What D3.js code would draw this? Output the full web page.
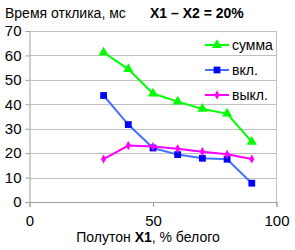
<!DOCTYPE html>
<html><head><meta charset="utf-8">
<script src="https://cdn.jsdelivr.net/npm/d3@7"></script>
<style>body{margin:0;background:#fff}svg{display:block;font-family:"Liberation Sans",Arial,sans-serif}</style>
</head><body><svg id="c" width="295" height="250"></svg>
<script>
const xValues = [30, 40, 50, 60, 70, 80, 90];
const summa = [61.2, 54.4, 44.4, 41.1, 38.1, 36.2, 24.6];
const vkl = [43.6, 31.7, 22.1, 19.4, 17.9, 17.5, 7.7];
const vykl = [17.6, 23.1, 22.7, 21.8, 20.6, 19.5, 17.6];
const seriesNames = ["сумма", "вкл.", "выкл."];
const xTicks = [0, 50, 100];
const yTicks = [0, 10, 20, 30, 40, 50, 60, 70];

const svg = d3.select("#c");
const x = d3.scaleLinear().domain([0, 100]).range([29.5, 276.5]);
const y = d3.scaleLinear().domain([0, 70]).range([202, 31]);

// gridlines
svg.append("g").selectAll("line").data(yTicks).join("line")
  .attr("x1", x(0)).attr("x2", x(100)).attr("y1", d => Math.round(y(d)) + 0.5).attr("y2", d => Math.round(y(d)) + 0.5)
  .attr("stroke", "#c0c0c0").attr("stroke-width", 1);
// right border
svg.append("line").attr("x1", x(100)).attr("x2", x(100)).attr("y1", y(70)).attr("y2", y(0)).attr("stroke", "#c0c0c0");

const yAxis = svg.append("g").attr("transform", `translate(${x(0)},0)`)
  .call(d3.axisLeft(y).tickValues(yTicks).tickSize(4).tickPadding(4));
const xAxis = svg.append("g").attr("transform", `translate(0,${y(0)})`)
  .call(d3.axisBottom(x).tickValues(xTicks).tickSize(5).tickPadding(8));
[yAxis, xAxis].forEach(a => {
  a.select(".domain").attr("stroke", "#a0a0a0");
  a.selectAll(".tick line").attr("stroke", "#a0a0a0");
  a.selectAll("text").attr("font-size", 15).attr("fill", "#000").attr("font-family", "Liberation Sans, Arial, sans-serif");
});
yAxis.selectAll("text").attr("x", -8);

const series = [
  {name: seriesNames[0], vals: summa, line: "#00ff00", fill: "#00ff00", shape: d3.symbolTriangle, size: 44},
  {name: seriesNames[1], vals: vkl, line: "#4472ff", fill: "#0000ff", shape: d3.symbolSquare, size: 46},
  {name: seriesNames[2], vals: vykl, line: "#ff00ff", fill: "#ff00ff", shape: d3.symbolDiamond, size: 24}
];
const line = d3.line().x(d => x(d[0])).y(d => y(d[1]));
series.forEach(s => {
  const pts = xValues.map((v, i) => [v, s.vals[i]]);
  svg.append("path").attr("d", line(pts)).attr("fill", "none").attr("stroke", s.line).attr("stroke-width", 2);
  svg.append("g").selectAll("path").data(pts).join("path")
    .attr("transform", d => `translate(${x(d[0])},${y(d[1])})`)
    .attr("d", d3.symbol().type(s.shape).size(s.size)).attr("fill", s.fill);
});

// legend
series.forEach((s, i) => {
  const ly = 45 + i * 25;
  svg.append("line").attr("x1", 205).attr("x2", 229).attr("y1", ly).attr("y2", ly).attr("stroke", s.line).attr("stroke-width", 2);
  svg.append("path").attr("transform", `translate(217,${ly})`).attr("d", d3.symbol().type(s.shape).size(s.size)).attr("fill", s.fill);
  svg.append("text").attr("x", 232).attr("y", ly + 5).attr("font-size", 14).text(s.name);
});

svg.append("text").attr("x", 5).attr("y", 18).attr("font-size", 14).text("Время отклика, мс");
svg.append("text").attr("x", 150).attr("y", 18).attr("font-size", 14).attr("font-weight", "bold").text("X1 – X2 = 20%");
const xt = svg.append("text").attr("x", 148).attr("y", 242).attr("font-size", 14).attr("text-anchor", "middle");
xt.append("tspan").text("Полутон ");
xt.append("tspan").attr("font-weight", "bold").text("X1");
xt.append("tspan").text(", % белого");
</script></body></html>
